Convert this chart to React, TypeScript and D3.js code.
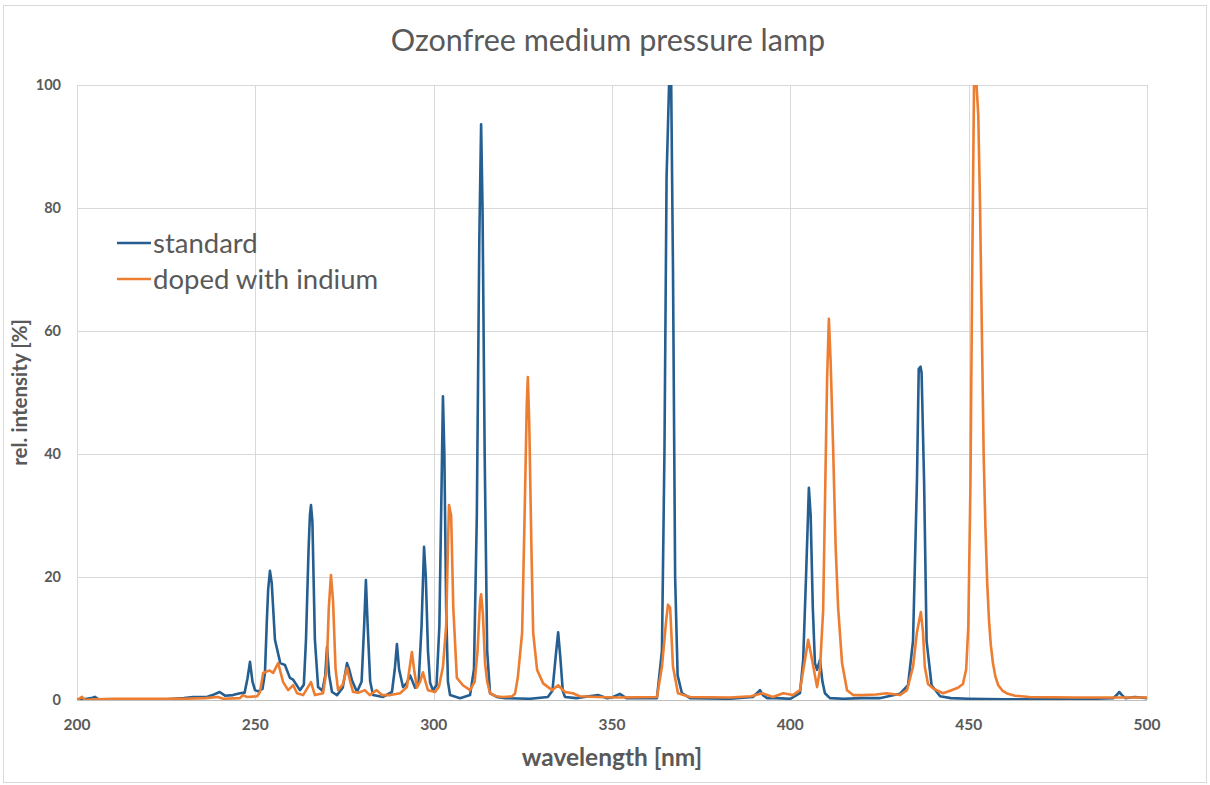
import React, { useEffect, useRef } from "react";
import * as d3 from "d3";

// wavelength [nm] / rel. intensity [%]
const standardNm = [
  200, 202, 204, 205, 206, 210, 215, 220, 225, 230, 232.6, 236.4, 238, 240, 241.5, 243.7, 245.7, 247,
  247.8, 248.5, 249.2, 249.9, 250.8, 252, 252.7, 253.2, 253.6, 254.1, 254.6, 255.5, 257, 258.3, 259.7,
  260.6, 262.5, 263.6, 264.2, 264.9, 265.3, 265.6, 266, 266.7, 267.6, 268.8, 269.6, 270.1, 270.7, 271.5,
  272.9, 274.5, 275.7, 276.3, 277.1, 278.5, 279.8, 280.5, 281, 281.5, 282.2, 283, 285.8, 288.3, 289.1,
  289.7, 290.3, 291.4, 292.5, 293.4, 294.8, 295.8, 296.6, 297.3, 297.8, 298.4, 299, 299.8, 300.8, 301.6,
  302.3, 302.6, 303, 303.5, 304, 304.6, 307.4, 310.2, 311.3, 312.1, 312.8, 313.3, 313.7, 314.3, 315,
  315.8, 317.7, 320, 327, 332, 333.3, 334.2, 334.9, 335.5, 336.2, 336.8, 340, 346.1, 348.6, 350, 352.2,
  354, 360, 362.6, 364, 364.7, 365.3, 366, 366.6, 367.1, 367.7, 368.4, 369.6, 371.9, 383, 389.5, 391,
  391.5, 392.3, 393.5, 396, 400, 402.7, 403.6, 404.4, 405.2, 405.7, 406.3, 406.9, 407.5, 408.3, 409,
  409.7, 411.1, 415, 420, 425, 430.7, 433, 434.4, 435.5, 436, 436.5, 436.8, 437.5, 438.2, 439.6, 442,
  445, 450, 460, 480, 490.5, 491.5, 492.2, 493, 493.9, 496.6, 500,
];
const standardVal = [
  0.1, 0.1, 0.3, 0.5, 0.1, 0.1, 0.1, 0.1, 0.1, 0.3, 0.5, 0.5, 0.8, 1.3, 0.7, 0.8, 1.1, 1.2,
  3.5, 6.2, 3, 1.6, 1.4, 1.8, 4.4, 12.5, 18, 21, 19, 9.8, 6, 5.7, 3.6,
  3.3, 1.6, 2.5, 9.8, 24, 30, 31.7, 29, 9.8, 2.1, 1.5, 4, 8.6, 4, 1.3,
  0.8, 2, 6, 5, 3.2, 1.3, 3, 12, 19.5, 12, 3, 0.8, 0.5, 1.3, 5,
  9.1, 5, 2.1, 2.8, 4, 2, 3, 12, 24.9, 20, 8, 2.8, 1.6, 2.4, 12,
  38, 49.4, 40, 15, 3, 0.8, 0.3, 0.8, 5, 30, 75, 93.6, 80, 40, 8,
  1.1, 0.5, 0.3, 0.2, 0.5, 1.5, 7, 11, 7, 1.5, 0.5, 0.3, 0.8, 0.3, 0.4, 1,
  0.3, 0.3, 0.3, 8, 40, 85, 100, 100, 70, 20, 4, 1.1, 0.3, 0.2, 0.5, 1.3,
  1.6, 0.8, 0.3, 0.3, 0.2, 1.1, 6.5, 20, 34.5, 30, 15, 6, 4.9, 6.5, 3,
  1.1, 0.3, 0.2, 0.3, 0.3, 1, 2.4, 9.6, 35.6, 53.8, 54.2, 53.2, 35.6, 9.6, 2.4, 0.6,
  0.3, 0.2, 0.1, 0.1, 0.3, 0.8, 1.3, 0.8, 0.3, 0.5, 0.3,
];

const indiumNm = [
  200, 201.4, 202.2, 205, 210, 220, 230, 236, 239.5, 241, 245.7, 246.5, 247.6, 250.5, 251.3, 252.2,
  253, 254, 255, 256.4, 257.8, 259.2, 260.6, 261.7, 263.4, 265.6, 266.7, 269, 270, 270.6, 271.2, 271.8,
  272.5, 273.2, 274.5, 275.7, 276.6, 277.4, 279, 280.7, 282.1, 284, 285.5, 287.8, 290.6, 292.5, 293.2,
  293.9, 294.5, 295.3, 296.2, 297, 297.7, 298.4, 300.4, 301.5, 302.6, 303.5, 304, 304.3, 304.9, 305.5,
  306.5, 308.2, 310.2, 311.5, 312.3, 313, 313.3, 313.8, 314.4, 315, 315.8, 317.5, 319.4, 322, 322.8,
  323.6, 324.8, 325.5, 326.1, 326.4, 326.8, 327.4, 327.9, 329, 330.7, 333.2, 334.9, 336.8, 339, 341,
  345.8, 351.4, 362.6, 364, 365.2, 365.7, 366.3, 367.1, 368.5, 371.9, 383, 389, 392.1, 395.1, 398,
  400.7, 402.7, 404.1, 405, 406.1, 407.5, 408.3, 409.2, 409.8, 410.3, 410.8, 411.3, 412, 412.7, 413.4,
  414.5, 415.9, 417.6, 420, 424, 427, 430.7, 432.7, 434.4, 435.5, 436.6, 437.2, 437.7, 438.6, 440,
  442.8, 444.8, 447, 448.4, 449.3, 449.9, 450.5, 451, 451.5, 452.2, 452.7, 453.2, 453.7, 454.2, 454.7,
  455.2, 455.7, 456.2, 456.8, 457.5, 458.3, 459.5, 461, 463, 467, 480, 490, 500,
];
const indiumVal = [
  0, 0.5, 0, 0.1, 0.2, 0.2, 0.2, 0.3, 0.5, 0.2, 0.3, 0.8, 0.5, 0.6, 1.3, 4.4,
  4.6, 4.8, 4.4, 6, 2.9, 1.6, 2.4, 1.1, 0.8, 2.9, 0.8, 1.1, 5, 15, 20.3, 16,
  5, 1.6, 2.5, 5.2, 3, 1.3, 1.2, 1.6, 0.8, 1.6, 0.8, 0.8, 1.1, 2.1, 5,
  7.8, 5, 2, 3, 4.5, 3, 1.6, 1.3, 2.2, 5.4, 12, 25, 31.7, 30, 15,
  3.6, 2.4, 1.6, 3, 8, 16, 17.2, 14, 6, 3, 1.1, 0.6, 0.5, 0.6, 1,
  3.7, 10.9, 30, 48, 52.5, 45, 25, 10.9, 4.9, 2.7, 1.6, 2.4, 1.3, 1.1, 0.6,
  0.5, 0.4, 0.5, 5.4, 13, 15.5, 15, 5.4, 1.1, 0.5, 0.4, 0.6, 1.1, 0.5, 1.1,
  0.8, 1.6, 6.5, 9.8, 6.5, 2.1, 4.9, 14.6, 35, 52, 62, 55, 41, 25, 15,
  6, 1.6, 0.8, 0.8, 0.9, 1.1, 0.8, 1.6, 5.4, 11, 14.3, 11, 5.4, 2.6, 1.9,
  1.1, 1.5, 2, 2.6, 5, 12, 35, 70, 100, 100, 95, 80, 60, 40, 28,
  19, 13, 9, 6, 3.8, 2.4, 1.5, 1, 0.7, 0.5, 0.4, 0.4, 0.4,
];

const xTicks = [200, 250, 300, 350, 400, 450, 500];
const yTicks = [0, 20, 40, 60, 80, 100];
const seriesNames = ["standard", "doped with indium"];
const seriesColors = ["#255e91", "#ed7d31"];

const App = () => {
  const svgRef = useRef<SVGSVGElement | null>(null);
  const width = 1210;
  const height = 785;
  const margin = { top: 85, right: 63, bottom: 85, left: 77 };

  useEffect(() => {
    const svg = d3.select(svgRef.current);
    svg.selectAll("*").remove();

    const font = "Lato, 'Open Sans', sans-serif";
    const gray = "#595959";

    // chart border
    svg
      .append("rect")
      .attr("x", 3.5)
      .attr("y", 5.5)
      .attr("width", 1203)
      .attr("height", 777)
      .attr("fill", "#fff")
      .attr("stroke", "#d9d9d9");

    const x = d3
      .scaleLinear()
      .domain([200, 500])
      .range([margin.left, width - margin.right]);
    const y = d3
      .scaleLinear()
      .domain([0, 100])
      .range([height - margin.bottom, margin.top]);

    svg
      .append("defs")
      .append("clipPath")
      .attr("id", "plot-clip")
      .append("rect")
      .attr("x", margin.left)
      .attr("y", margin.top)
      .attr("width", width - margin.left - margin.right)
      .attr("height", height - margin.top - margin.bottom);

    // gridlines
    svg
      .append("g")
      .selectAll("line")
      .data(yTicks.filter((d) => d > 0))
      .enter()
      .append("line")
      .attr("x1", margin.left)
      .attr("x2", width - margin.right)
      .attr("y1", (d) => Math.round(y(d)) + 0.5)
      .attr("y2", (d) => Math.round(y(d)) + 0.5)
      .attr("stroke", "#d9d9d9");

    svg
      .append("g")
      .selectAll("line")
      .data(xTicks)
      .enter()
      .append("line")
      .attr("x1", (d) => Math.round(x(d)) + 0.5)
      .attr("x2", (d) => Math.round(x(d)) + 0.5)
      .attr("y1", margin.top)
      .attr("y2", height - margin.bottom)
      .attr("stroke", "#d9d9d9");

    // x axis line
    svg
      .append("line")
      .attr("x1", margin.left)
      .attr("x2", width - margin.right)
      .attr("y1", y(0) + 0.5)
      .attr("y2", y(0) + 0.5)
      .attr("stroke", "#bfbfbf");

    // tick labels
    svg
      .append("g")
      .selectAll("text")
      .data(yTicks)
      .enter()
      .append("text")
      .attr("x", margin.left - 16)
      .attr("y", (d) => y(d))
      .attr("dy", "0.35em")
      .attr("text-anchor", "end")
      .attr("font-family", font)
      .attr("font-weight", "bold")
      .attr("font-size", 14.5)
      .attr("fill", gray)
      .text((d) => d);

    svg
      .append("g")
      .selectAll("text")
      .data(xTicks)
      .enter()
      .append("text")
      .attr("x", (d) => x(d))
      .attr("y", height - margin.bottom + 30)
      .attr("text-anchor", "middle")
      .attr("font-family", font)
      .attr("font-weight", "bold")
      .attr("font-size", 15.5)
      .attr("fill", gray)
      .text((d) => d);

    // lines
    const series = [
      { nm: standardNm, val: standardVal },
      { nm: indiumNm, val: indiumVal },
    ];
    const line = d3
      .line<[number, number]>()
      .x((d) => x(d[0]))
      .y((d) => y(d[1]));

    const plot = svg.append("g").attr("clip-path", "url(#plot-clip)");
    series.forEach((s, i) => {
      const pts = s.nm.map((n, j) => [n, s.val[j]] as [number, number]);
      plot
        .append("path")
        .datum(pts)
        .attr("fill", "none")
        .attr("stroke", seriesColors[i])
        .attr("stroke-width", 2.6)
        .attr("stroke-linejoin", "round")
        .attr("d", line);
    });

    // title
    svg
      .append("text")
      .attr("x", 608)
      .attr("y", 51)
      .attr("text-anchor", "middle")
      .attr("font-family", font)
      .attr("font-size", 30.5)
      .attr("fill", gray)
      .text("Ozonfree medium pressure lamp");

    // axis titles
    svg
      .append("text")
      .attr("x", 612)
      .attr("y", 766)
      .attr("text-anchor", "middle")
      .attr("font-family", font)
      .attr("font-weight", "bold")
      .attr("font-size", 24.5)
      .attr("fill", gray)
      .text("wavelength [nm]");

    svg
      .append("text")
      .attr("transform", `translate(27,${(margin.top + height - margin.bottom) / 2}) rotate(-90)`)
      .attr("text-anchor", "middle")
      .attr("font-family", font)
      .attr("font-weight", "bold")
      .attr("font-size", 20.5)
      .attr("fill", gray)
      .text("rel. intensity [%]");

    // legend
    const legend = svg.append("g").attr("transform", "translate(117,243)");
    const item = legend
      .selectAll("g")
      .data(seriesNames)
      .enter()
      .append("g")
      .attr("transform", (d, i) => `translate(0,${i * 36})`);
    item
      .append("line")
      .attr("x1", 0)
      .attr("x2", 34)
      .attr("stroke", (d, i) => seriesColors[i])
      .attr("stroke-width", 2.6);
    item
      .append("text")
      .attr("x", 36)
      .attr("dy", "0.35em")
      .attr("font-family", font)
      .attr("font-size", 27.5)
      .attr("fill", gray)
      .text((d) => d);
  }, []);

  return (
    <svg
      ref={svgRef}
      width={width}
      height={height}
      style={{ position: "absolute", left: 0, top: 0 }}
    />
  );
};

export default App;
